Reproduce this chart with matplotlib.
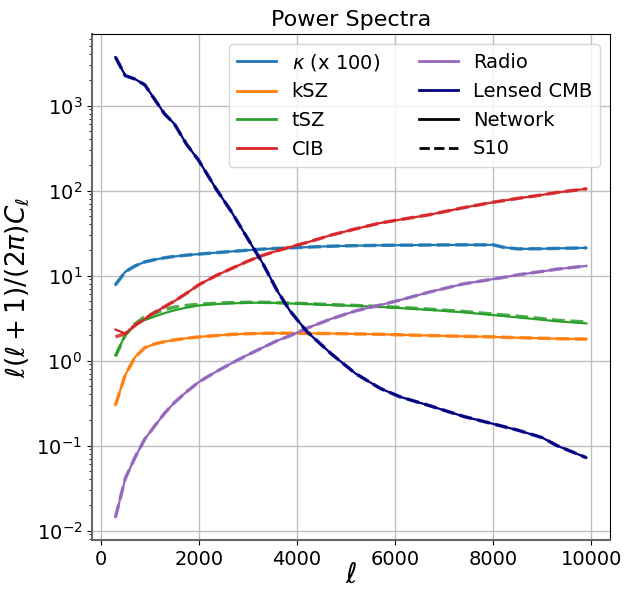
import numpy as np
import matplotlib
matplotlib.use("Agg")
import matplotlib.pyplot as plt
from matplotlib.lines import Line2D

ell = [300, 500, 700, 900, 1100, 1300, 1500, 1750, 2000, 2350, 2650, 3000, 3300,
       3600, 3850, 4200, 4700, 5200, 5700, 6100, 6700, 7400, 8000, 8200, 8500,
       9000, 9300, 9900]

# Network predictions
kappa_net = [7.8, 11.1, 13.0, 14.5, 15.4, 16.2, 16.8, 17.4, 17.9, 18.6, 19.2, 19.9, 20.5,
             20.9, 21.2, 21.6, 22.2, 22.5, 22.7, 22.8, 22.9, 23.0, 23.0, 21.6, 20.6,
             20.7, 20.9, 21.2]
ksz_net = [0.30, 0.68, 1.10, 1.42, 1.57, 1.67, 1.75, 1.83, 1.90, 1.97, 2.03, 2.07, 2.09,
           2.10, 2.10, 2.09, 2.08, 2.06, 2.04, 2.01, 1.97, 1.93, 1.90, 1.88, 1.86,
           1.83, 1.81, 1.79]
tsz_net = [1.16, 2.0, 2.65, 3.0, 3.3, 3.62, 3.9, 4.2, 4.45, 4.62, 4.72, 4.78, 4.8,
           4.76, 4.7, 4.63, 4.5, 4.4, 4.28, 4.15, 3.95, 3.7, 3.43, 3.35, 3.22,
           3.02, 2.9, 2.74]
cib_net = [2.32, 2.08, 2.6, 3.1, 3.7, 4.3, 5.0, 6.2, 7.8, 10.0, 12.0, 14.8, 17.3,
           19.6, 21.6, 24.5, 30.0, 35.5, 41.6, 45.5, 52.0, 63.0, 73.0, 76.0, 81.0,
           89.0, 95.0, 105.0]
radio_net = [0.0144, 0.041, 0.073, 0.12, 0.17, 0.24, 0.32, 0.43, 0.56, 0.74, 0.92, 1.17, 1.42,
             1.72, 1.95, 2.4, 3.1, 3.85, 4.5, 5.15, 6.4, 8.0, 9.1, 9.5, 10.2,
             11.2, 11.9, 13.0]
cmb_net = [3715, 2250, 2050, 1750, 1180, 800, 610, 350, 225, 105, 58, 27, 14,
           6.6, 3.9, 2.2, 1.2, 0.7, 0.47, 0.375, 0.295, 0.22, 0.18, 0.168, 0.152,
           0.124, 0.1, 0.072]

# S10 simulations (mostly on top of the network curves)
kappa_s10 = kappa_net
ksz_s10 = ksz_net
tsz_s10 = [1.12, 2.0, 2.7, 3.3, 3.6, 4.0, 4.25, 4.45, 4.6, 4.72, 4.8, 4.85, 4.85,
           4.8, 4.75, 4.68, 4.55, 4.45, 4.33, 4.22, 4.02, 3.78, 3.52, 3.44, 3.32,
           3.12, 2.98, 2.84]
cib_s10 = [1.9] + cib_net[1:]
radio_s10 = radio_net
cmb_s10 = cmb_net

labels = [r"$\kappa$ (x 100)", "kSZ", "tSZ", "CIB", "Radio", "Lensed CMB"]
colors = ["C0", "C1", "C2", "C3", "C4", "navy"]
net = [kappa_net, ksz_net, tsz_net, cib_net, radio_net, cmb_net]
s10 = [kappa_s10, ksz_s10, tsz_s10, cib_s10, radio_s10, cmb_s10]

fig = plt.figure(figsize=(6.34, 5.89), dpi=100)
ax = fig.add_axes([0.145, 0.083, 0.817, 0.859])

handles = []
for lab, c, yn, ys in zip(labels, colors, net, s10):
    ax.plot(ell, yn, "-", color=c, lw=1.6)
    ax.plot(ell, ys, "--", color=c, lw=2.5, alpha=0.85)
    handles.append(Line2D([], [], color=c, lw=2, label=lab))
handles.append(Line2D([], [], color="k", lw=2, ls="-", label="Network"))
handles.append(Line2D([], [], color="k", lw=2, ls="--", label="S10"))

ax.set_yscale("log")
ax.set_xticks([0, 2000, 4000, 6000, 8000, 10000])
ax.grid(True, which="major", color="0.75", lw=1)
ax.tick_params(labelsize=14)
ax.set_xlabel(r"$\ell$", fontsize=20, labelpad=-6)
ax.set_ylabel(r"$\ell(\ell+1)/(2\pi)C_\ell$", fontsize=19)
ax.set_title("Power Spectra", fontsize=16)

for side in ["left", "bottom"]:
    ax.spines[side].set_color("0.4")
    ax.spines[side].set_linewidth(1.5)

ax.legend(handles=handles, ncol=2, loc="upper right", fontsize=14)

fig.savefig("out.png", dpi=100)
